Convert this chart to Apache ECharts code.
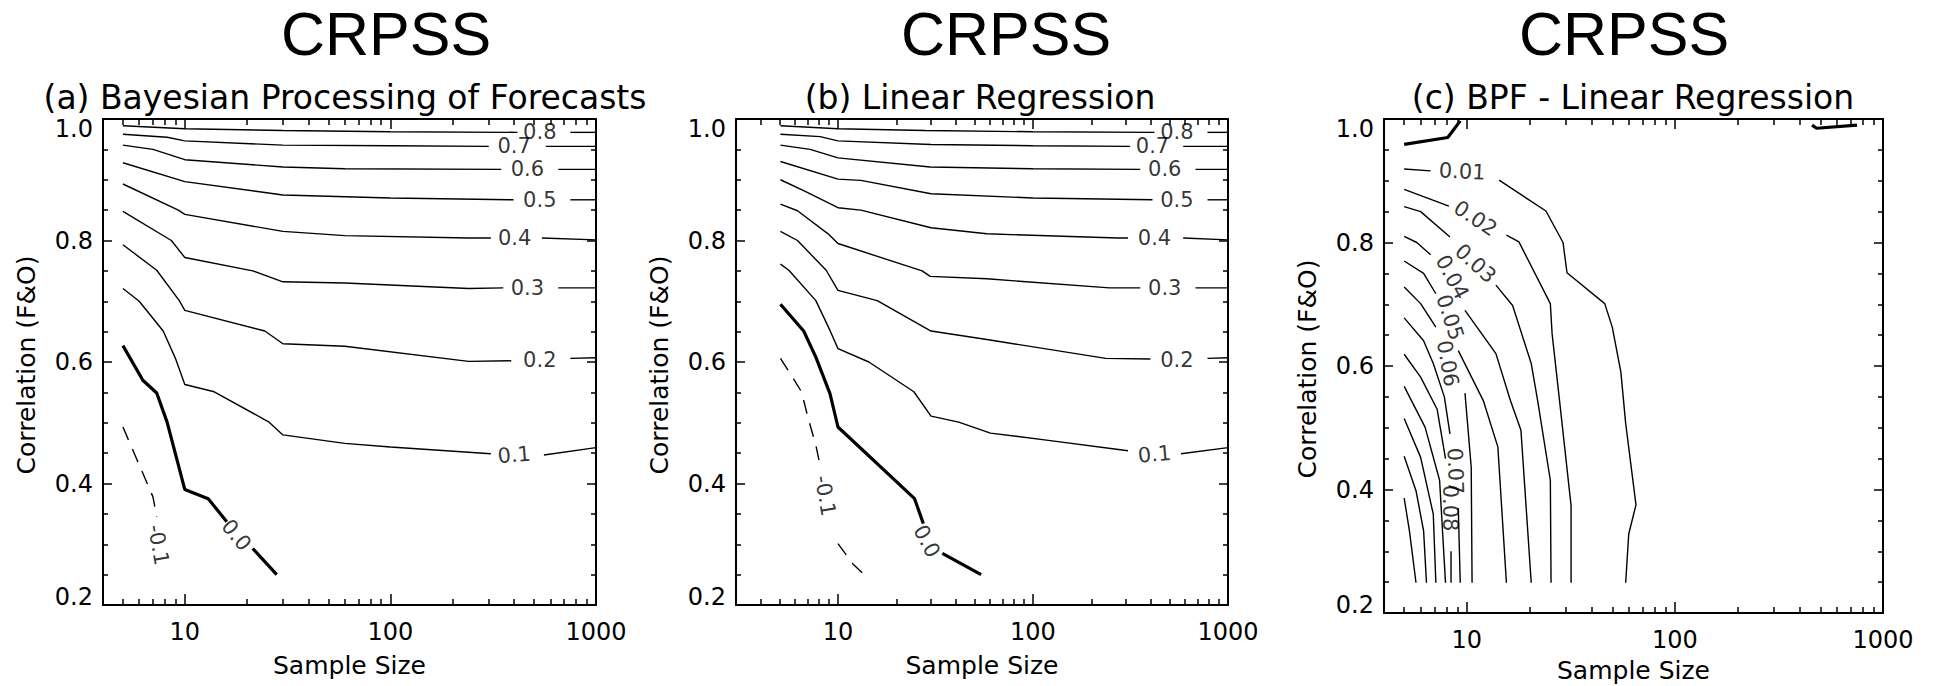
<!DOCTYPE html>
<html><head><meta charset="utf-8">
<script src="https://cdn.jsdelivr.net/npm/echarts@6/dist/echarts.min.js"></script>
<style>html,body{margin:0;padding:0;background:#fff}#c{width:1934px;height:686px}</style>
</head><body><div id="c"></div>
<script>
// ---------------- data ----------------
const mainTitle = 'CRPSS';
const panelTitles = ['(a) Bayesian Processing of Forecasts', '(b) Linear Regression', '(c) BPF - Linear Regression'];
const xName = 'Sample Size';
const yName = 'Correlation (F&O)';
const xMin = [4, 3, 4];
const xMax = 1000;
const yMin = 0.2, yMax = 1.0, yStep = 0.2;
const xMajorTicks = [10, 100, 1000];
const xMinorTicks4 = [5,6,7,8,9,20,30,40,50,60,70,80,90,200,300,400,500,600,700,800,900];
const xMinorTicks3 = [4,5,6,7,8,9,20,30,40,50,60,70,80,90,200,300,400,500,600,700,800,900];

// Panel (a) contours: [sample size, correlation]; null = gap for inline label
const a08 = [[5,0.989],[10,0.984],[30,0.981],[100,0.979],[415,0.978],null,[750,0.978],[1000,0.978]];
const a07 = [[5,0.975],[8.2,0.970],[10,0.964],[30,0.957],[100,0.956],[301,0.955],null,[570,0.955],[1000,0.955]];
const a06 = [[5,0.957],[7,0.950],[10,0.933],[30,0.921],[60,0.918],[346,0.917],null,[655,0.917],[1000,0.917]];
const a05 = [[5,0.928],[10,0.897],[30,0.875],[100,0.870],[397,0.867],null,[750,0.867],[1000,0.867]];
const a04 = [[5,0.893],[9.3,0.850],[10,0.843],[30,0.815],[60,0.808],[240,0.804],[308,0.804],null,[546,0.804],[1000,0.801]];
const a03 = [[5,0.848],[8.6,0.800],[10,0.772],[21.4,0.750],[30,0.732],[60,0.730],[240,0.721],[354,0.722],null,[655,0.722],[1000,0.722]];
const a02 = [[5,0.793],[7.3,0.751],[9.4,0.701],[10,0.685],[24.5,0.651],[30,0.630],[60,0.626],[240,0.601],[387,0.602],null,[750,0.606],[1000,0.607]];
const a01 = [[5,0.721],[6,0.700],[7.85,0.651],[9.0,0.606],[10,0.563],[13.9,0.551],[25.7,0.501],[30,0.480],[60,0.466],[100,0.460],[308,0.449],null,[558,0.447],[1000,0.459]];
const a00 = [[5,0.627],[6.25,0.570],[7.3,0.549],[8.2,0.501],[10,0.390],[13,0.375],[16,0.337],null,[21.4,0.293],[28,0.250]];
const aM01 = [[5,0.493],[7,0.378],[7.3,0.345]];
const aLabels = [['0.8',533,0.978],['0.7',400,0.955],['0.6',464,0.917],['0.5',533,0.867],['0.4',402,0.804],['0.3',464,0.722],['0.2',533,0.603],['0.1',400,0.447],['0.0',17.8,0.315],['-0.1',7.43,0.299]];
const aLabelRot = [0,0,0,0,0,0,0,5,-50,-80];

// Panel (b)
const b08 = [[5.07,0.989],[10,0.984],[28,0.981],[100,0.979],[420,0.978],null,[785,0.978],[1000,0.978]];
const b07 = [[5.07,0.975],[8.1,0.971],[10,0.964],[30,0.958],[100,0.956],[315,0.955],null,[589,0.955],[1000,0.955]];
const b06 = [[5.07,0.957],[7.2,0.950],[10,0.936],[29.7,0.921],[100,0.918],[355,0.917],null,[681,0.917],[1000,0.917]];
const b05 = [[5.07,0.930],[10,0.901],[13.1,0.899],[30,0.877],[100,0.870],[410,0.867],null,[785,0.867],[1000,0.867]];
const b04 = [[5.07,0.900],[6.67,0.882],[10,0.854],[13.1,0.850],[30,0.821],[58,0.811],[272,0.804],[307,0.804],null,[589,0.804],[1000,0.801]];
const b03 = [[5.07,0.860],[6.2,0.849],[8.9,0.811],[10,0.795],[27,0.750],[29.7,0.741],[58,0.737],[247,0.722],[355,0.722],null,[681,0.722],[1000,0.722]];
const b02 = [[5.07,0.815],[6.2,0.800],[8.7,0.751],[10,0.718],[15.9,0.701],[30,0.651],[58,0.637],[236,0.606],[400,0.605],null,[785,0.606],[1000,0.607]];
const b01 = [[5.07,0.761],[5.6,0.751],[7.7,0.701],[9.1,0.652],[10,0.622],[14.4,0.600],[24.5,0.551],[30,0.511],[41.6,0.501],[60.5,0.483],[120,0.471],[307,0.454],null,[574,0.449],[1000,0.459]];
const b00 = [[5.07,0.695],[6.67,0.651],[7.7,0.608],[9.1,0.548],[10,0.493],[24.7,0.375],[27.4,0.334],null,[34.3,0.285],[54.2,0.250]];
const bM01 = [[5.07,0.606],[5.9,0.573],[6.5,0.551],[7.0,0.510],[7.7,0.463],[8.1,0.430],null,[10,0.301],[11.9,0.268],[13.6,0.250]];
const bLabels = [['0.8',547,0.978],['0.7',410,0.955],['0.6',474,0.917],['0.5',547,0.867],['0.4',420,0.804],['0.3',474,0.722],['0.2',547,0.603],['0.1',420,0.448],['0.0',28.5,0.305],['-0.1',8.6,0.38]];
const bLabelRot = [0,0,0,0,0,0,0,5,-62,-80];

// Panel (c) BPF minus linear regression
const c00L = [[5,0.959],[8.1,0.970],[9.3,0.997]];
const c00R = [[456,0.990],[480,0.985],[750,0.990]];
const c01 = [[5,0.919],[6.7,0.916],null,[14.3,0.901],[24,0.851],[29,0.800],[30.3,0.751],[46,0.701],[50,0.663],[55,0.590],[58,0.507],[65,0.375],[60,0.328],[58,0.249]];
const c02 = [[5,0.886],[8.2,0.859],null,[15.5,0.812],[17.8,0.801],[25.2,0.701],[25.7,0.652],[27.9,0.544],[31.7,0.374],[31.7,0.249]];
const c03 = [[5,0.858],[6,0.850],[8.3,0.809],null,[13.8,0.731],[16.6,0.698],[20.4,0.604],[21.9,0.544],[25.2,0.415],[25.4,0.249]];
const c04 = [[5,0.810],[5.75,0.800],[6.7,0.780],null,[9.8,0.690],[13.8,0.620],[16.2,0.544],[18.2,0.496],[20.4,0.249]];
const c05 = [[5,0.770],[6.2,0.750],[7.1,0.717],null,[9.1,0.625],[12,0.544],[14.1,0.469],[15.5,0.249]];
const c06 = [[5,0.728],[6,0.701],[7.1,0.663],null,[9.8,0.556],[10.5,0.436],[10.6,0.249]];
const c07 = [[5,0.678],[6.2,0.641],[6.9,0.604],[7.8,0.550],[8.3,0.490],null,[9.1,0.370],[9.3,0.249]];
const c08 = [[5,0.619],[6,0.582],[7.2,0.530],[7.9,0.450],null,[8.4,0.300],[8.4,0.249]];
const c09 = [[5,0.567],[6.3,0.501],[7.4,0.415],[7.9,0.249]];
const c10 = [[5,0.515],[6,0.452],[6.9,0.360],[7.1,0.249]];
const c11 = [[5,0.454],[5.7,0.398],[6.2,0.333],[6.4,0.249]];
const c12 = [[5,0.386],[5.3,0.333],[5.7,0.249]];
const cLabels = [['0.01',9.5,0.915],['0.02',11,0.839],['0.03',11,0.766],['0.04',8.5,0.744],['0.05',8.3,0.679],['0.06',8.1,0.604],['0.07',8.8,0.43],['0.08',8.3,0.37]];
const cLabelRot = [-3,-33,-42,-62,-72,-80,-88,-90];

// ---------------- layout / style ----------------
const grids = [
  {left:103, top:119, width:493, height:486},
  {left:736, top:119, width:492, height:486},
  {left:1384, top:119, width:499, height:494}
];
const titleX = [386, 1006, 1624];
const subX = [345, 980, 1633];
const xNameY = [665, 665, 670];
const HFONT = 'DejaVu Sans';
const black = '#000';

function segments(arr){
  const out=[]; let cur=[];
  arr.forEach(p=>{ if(p===null){ if(cur.length) out.push(cur); cur=[]; } else cur.push(p); });
  if(cur.length) out.push(cur);
  return out;
}

const xAxis=[], yAxis=[], series=[], graphic=[];
const tickLS = {color:black, width:1.5};
const lineLS = {color:black, width:2};

grids.forEach((g,p)=>{
  const base = {type:'log', logBase:10, min:xMin[p], max:xMax, gridIndex:p, splitLine:{show:false}, axisLine:{show:false, onZero:false}};
  const minors = xMin[p]===3 ? xMinorTicks3 : xMinorTicks4;
  xAxis.push(Object.assign({}, base, {position:'bottom', axisLine:{show:true,onZero:false,lineStyle:lineLS},
    axisTick:{show:true, inside:true, length:11, customValues:xMajorTicks, lineStyle:tickLS},
    axisLabel:{show:true, customValues:xMajorTicks, color:black, fontSize:24, fontFamily:HFONT, margin:15, formatter:v=>String(Math.round(v))}}));
  xAxis.push(Object.assign({}, base, {position:'bottom', axisTick:{show:true, inside:true, length:6, customValues:minors, lineStyle:tickLS}, axisLabel:{show:false}}));
  xAxis.push(Object.assign({}, base, {position:'top', axisLine:{show:true,onZero:false,lineStyle:lineLS},
    axisTick:{show:true, inside:true, length:10, customValues:xMajorTicks, lineStyle:tickLS}, axisLabel:{show:false}}));
  xAxis.push(Object.assign({}, base, {position:'top', axisTick:{show:true, inside:true, length:6, customValues:minors, lineStyle:tickLS}, axisLabel:{show:false}}));

  const ybase = {type:'value', min:yMin, max:yMax, interval:yStep, gridIndex:p, splitLine:{show:false}, minorSplitLine:{show:false},
    axisLine:{show:true, onZero:false, lineStyle:lineLS},
    axisTick:{show:true, inside:true, length:9, lineStyle:tickLS},
    minorTick:{show:true, splitNumber:4, length:5, lineStyle:tickLS}};
  yAxis.push(Object.assign({}, ybase, {position:'left',
    axisLabel:{show:true, color:black, fontSize:24, fontFamily:HFONT, margin:10,
      formatter:v=> Math.abs(v-yMax)<1e-6 ? '{t|'+v.toFixed(1)+'}' : (Math.abs(v-yMin)<1e-6 ? '{b|'+v.toFixed(1)+'}' : v.toFixed(1)),
      rich:{t:{padding:[19,0,0,0],fontSize:24,fontFamily:HFONT,color:black}, b:{padding:[0,0,16,0],fontSize:24,fontFamily:HFONT,color:black}}}}));
  yAxis.push(Object.assign({}, ybase, {position:'right', axisLabel:{show:false}}));

  graphic.push({type:'text', x:titleX[p], y:34, silent:true, style:{text:mainTitle, fontFamily:'Liberation Sans', fontSize:61, lineHeight:61, fill:black, align:'center', verticalAlign:'middle', textAlign:'center', textVerticalAlign:'middle'}});
  graphic.push({type:'text', x:subX[p], y:97, silent:true, style:{text:panelTitles[p], fontFamily:HFONT, fontSize:33, fill:black, align:'center', verticalAlign:'middle', textAlign:'center', textVerticalAlign:'middle'}});
  graphic.push({type:'text', x:g.left+g.width/2, y:xNameY[p], silent:true, style:{text:xName, fontFamily:HFONT, fontSize:25, lineHeight:27, fill:black, align:'center', verticalAlign:'middle', textAlign:'center', textVerticalAlign:'middle'}});
  graphic.push({type:'text', x:g.left-77, y:g.top+g.height/2+3, rotation:Math.PI/2, silent:true, style:{text:yName, fontFamily:HFONT, fontSize:25, fill:black, align:'center', verticalAlign:'middle', textAlign:'center', textVerticalAlign:'middle'}});
});

function addContour(p, pts, kind){
  segments(pts).forEach(s=>series.push({type:'line', xAxisIndex:p*4, yAxisIndex:p*2, data:s, symbol:'none', silent:true, animation:false, clip:false,
    lineStyle:{color:black, width: kind==='thick'?3.2:1.4, type: kind==='dash'?[14,10]:'solid'}}));
}
function addLabels(p, labs, rots){
  series.push({type:'scatter', xAxisIndex:p*4, yAxisIndex:p*2, symbol:'circle', symbolSize:1, silent:true, animation:false,
    itemStyle:{color:'rgba(0,0,0,0)'},
    label:{show:true, position:'inside', color:black, fontSize:21, lineHeight:16, fontFamily:HFONT, align:'center', verticalAlign:'middle'},
    data: labs.map((l,i)=>({value:[l[1],l[2]], label:{formatter:l[0], rotate:rots[i]}}))});
}

[a08,a07,a06,a05,a04,a03,a02,a01].forEach(c=>addContour(0,c,'thin'));
addContour(0,a00,'thick'); addContour(0,aM01,'dash');
addLabels(0,aLabels,aLabelRot);
[b08,b07,b06,b05,b04,b03,b02,b01].forEach(c=>addContour(1,c,'thin'));
addContour(1,b00,'thick'); addContour(1,bM01,'dash');
addLabels(1,bLabels,bLabelRot);
addContour(2,c00L,'thick'); addContour(2,c00R,'thick');
[c01,c02,c03,c04,c05,c06,c07,c08,c09,c10,c11,c12].forEach(c=>addContour(2,c,'thin'));
addLabels(2,cLabels,cLabelRot);

const chart = echarts.init(document.getElementById('c'), null, {renderer:'svg'});
chart.setOption({
  animation:false,
  backgroundColor:'#fff',
  grid: grids.map(g=>Object.assign({containLabel:false, outerBoundsMode:'none'}, g)),
  xAxis, yAxis, series, graphic
});
</script></body></html>
